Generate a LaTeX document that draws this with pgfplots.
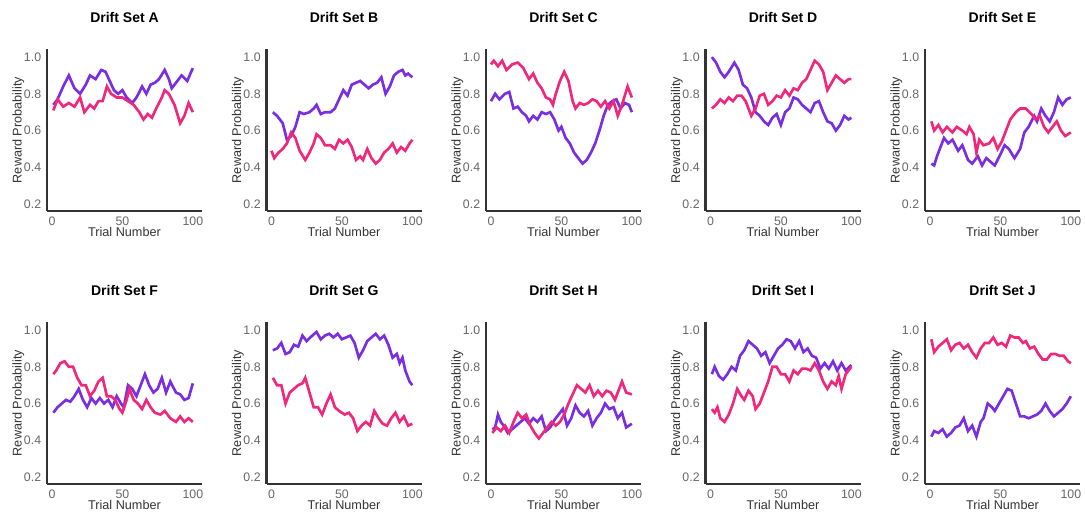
\documentclass[border=0pt]{standalone}
\usepackage{fontspec}
\setmainfont{Liberation Sans}
\usepackage{pgfplots}
\pgfplotsset{compat=1.18}
\definecolor{drpurple}{RGB}{122,46,226}
\definecolor{drpink}{RGB}{240,40,124}

\pgfplotsset{
  drift/.style={
    scale only axis, width=93pt, height=97.2pt, anchor=south west,
    xmin=-3.5, xmax=106.5, ymin=0.162, ymax=1.044,
    axis lines=left, axis line style={-, line width=1.3pt, black!80},
    xtick={0,50,100}, ytick={0.2,0.4,0.6,0.8,1.0},
    major tick length=0pt,
    /pgf/number format/assume math mode=true,
    yticklabel style={/pgf/number format/.cd, fixed, fixed zerofill, precision=1},
    tick label style={font=\fontsize{7.4}{8}\selectfont, text=black!60},
    label style={font=\fontsize{7.6}{8}\selectfont, text=black!80},
    xlabel={Trial Number}, ylabel={Reward Probability},
    xlabel style={yshift=6pt}, ylabel style={yshift=-7pt},
    title style={font=\fontsize{8.4}{9}\selectfont\bfseries, at={(0.5,1)}, anchor=south, yshift=6pt},
  },
  pu/.style={drpurple, line width=1.6pt, no marks},
  pk/.style={drpink, line width=1.6pt, no marks},
}

\begin{document}
\begin{tikzpicture}
\useasboundingbox (0,0) rectangle (651pt,308.4pt);

% ---- row 1 ----
\begin{axis}[drift, at={(28.2pt,181.8pt)}, title={Drift Set A}]
\addplot[pu] coordinates {(1,0.74) (4,0.77) (8,0.84) (12,0.90) (16,0.83) (20,0.80) (24,0.85) (27,0.90) (31,0.88) (35,0.93) (38,0.92) (41,0.87) (44,0.82) (47,0.80) (50,0.82) (53,0.78) (57,0.75) (60,0.78) (64,0.84) (67,0.80) (70,0.85) (73,0.86) (76,0.88) (80,0.93) (83,0.88) (85,0.83) (88,0.86) (92,0.90) (96,0.87) (100,0.94)};
\addplot[pk] coordinates {(1,0.71) (4,0.77) (8,0.73) (12,0.75) (16,0.73) (20,0.78) (23,0.70) (27,0.74) (30,0.72) (33,0.76) (36,0.76) (39,0.84) (42,0.80) (46,0.78) (50,0.78) (54,0.76) (58,0.74) (62,0.70) (65,0.66) (68,0.69) (71,0.67) (74,0.72) (78,0.78) (80,0.82) (83,0.80) (87,0.74) (91,0.64) (94,0.68) (97,0.75) (100,0.70)};
\end{axis}

\begin{axis}[drift, at={(159.9pt,181.8pt)}, title={Drift Set B}]
\addplot[pu] coordinates {(1,0.70) (4,0.68) (8,0.64) (11,0.55) (14,0.57) (17,0.62) (20,0.70) (23,0.69) (27,0.70) (30,0.72) (32,0.74) (35,0.69) (38,0.70) (42,0.70) (45,0.72) (48,0.77) (51,0.82) (54,0.79) (57,0.85) (60,0.86) (63,0.87) (66,0.85) (69,0.83) (72,0.85) (75,0.86) (78,0.89) (81,0.80) (84,0.84) (87,0.90) (90,0.92) (93,0.93) (95,0.90) (97,0.91) (100,0.89)};
\addplot[pk] coordinates {(0,0.49) (2,0.45) (5,0.48) (8,0.50) (11,0.53) (14,0.59) (17,0.56) (20,0.49) (24,0.44) (27,0.48) (30,0.53) (32,0.58) (35,0.56) (38,0.52) (42,0.52) (45,0.50) (48,0.55) (51,0.53) (54,0.55) (57,0.51) (60,0.44) (63,0.46) (65,0.44) (68,0.50) (71,0.45) (74,0.42) (77,0.44) (80,0.48) (83,0.50) (86,0.53) (89,0.48) (92,0.51) (95,0.49) (98,0.53) (100,0.55)};
\end{axis}

\begin{axis}[drift, at={(291.6pt,181.8pt)}, title={Drift Set C}]
\addplot[pu] coordinates {(0,0.76) (3,0.80) (6,0.77) (10,0.80) (13,0.81) (16,0.72) (19,0.73) (22,0.70) (25,0.68) (27,0.65) (30,0.68) (33,0.66) (36,0.70) (39,0.69) (42,0.70) (45,0.66) (48,0.60) (50,0.62) (53,0.56) (56,0.53) (59,0.48) (62,0.45) (65,0.42) (68,0.44) (71,0.48) (74,0.53) (77,0.60) (80,0.68) (83,0.74) (86,0.76) (89,0.77) (92,0.72) (95,0.75) (98,0.74) (100,0.70)};
\addplot[pk] coordinates {(0,0.96) (2,0.98) (5,0.95) (8,0.98) (11,0.93) (15,0.96) (19,0.97) (23,0.94) (27,0.88) (30,0.91) (33,0.86) (36,0.83) (39,0.78) (42,0.77) (44,0.74) (46,0.80) (49,0.87) (52,0.92) (55,0.87) (58,0.76) (60,0.72) (63,0.75) (66,0.74) (69,0.75) (72,0.77) (75,0.76) (78,0.73) (81,0.76) (84,0.72) (87,0.76) (90,0.68) (93,0.74) (97,0.84) (100,0.78)};
\end{axis}

\begin{axis}[drift, at={(423.3pt,181.8pt)}, title={Drift Set D}]
\addplot[pu] coordinates {(1,1.00) (4,0.97) (7,0.92) (10,0.89) (13,0.92) (17,0.97) (20,0.93) (23,0.85) (26,0.83) (29,0.78) (32,0.70) (35,0.68) (38,0.65) (41,0.63) (44,0.67) (47,0.69) (50,0.63) (53,0.70) (56,0.72) (59,0.78) (62,0.77) (65,0.74) (68,0.72) (71,0.70) (74,0.75) (77,0.76) (80,0.70) (83,0.65) (86,0.64) (89,0.60) (92,0.63) (95,0.68) (98,0.66) (100,0.67)};
\addplot[pk] coordinates {(1,0.72) (4,0.74) (7,0.77) (10,0.75) (13,0.78) (16,0.76) (19,0.79) (22,0.79) (25,0.76) (29,0.68) (32,0.72) (35,0.79) (38,0.80) (41,0.74) (44,0.76) (47,0.79) (50,0.78) (53,0.82) (56,0.79) (59,0.83) (62,0.82) (65,0.86) (68,0.88) (71,0.93) (74,0.98) (77,0.96) (80,0.92) (83,0.82) (86,0.86) (89,0.90) (92,0.88) (95,0.86) (98,0.88) (100,0.88)};
\end{axis}

\begin{axis}[drift, at={(555pt,181.8pt)}, title={Drift Set E}]
\addplot[pu] coordinates {(1,0.42) (3,0.41) (5,0.46) (7,0.50) (10,0.56) (13,0.53) (16,0.55) (20,0.49) (23,0.52) (27,0.44) (30,0.42) (34,0.46) (37,0.41) (40,0.45) (43,0.43) (46,0.41) (50,0.47) (53,0.52) (56,0.50) (60,0.45) (64,0.50) (67,0.59) (70,0.62) (74,0.68) (76,0.65) (79,0.72) (82,0.68) (85,0.65) (88,0.70) (91,0.78) (94,0.74) (97,0.77) (100,0.78)};
\addplot[pk] coordinates {(1,0.65) (3,0.60) (6,0.63) (9,0.59) (12,0.62) (16,0.59) (19,0.62) (23,0.60) (26,0.58) (28,0.62) (31,0.58) (33,0.48) (35,0.55) (38,0.52) (42,0.53) (45,0.56) (48,0.50) (51,0.54) (54,0.60) (57,0.66) (61,0.70) (64,0.72) (68,0.72) (72,0.69) (75,0.66) (78,0.68) (81,0.62) (84,0.59) (87,0.62) (90,0.65) (93,0.60) (96,0.57) (100,0.59)};
\end{axis}

% ---- row 2 ----
\begin{axis}[drift, at={(28.2pt,18pt)}, title={Drift Set F}]
\addplot[pu] coordinates {(1,0.55) (4,0.58) (7,0.60) (10,0.62) (13,0.61) (16,0.64) (19,0.68) (22,0.62) (25,0.58) (28,0.63) (31,0.60) (34,0.63) (37,0.60) (40,0.62) (43,0.58) (46,0.64) (49,0.60) (51,0.58) (54,0.70) (57,0.68) (60,0.64) (63,0.70) (66,0.76) (69,0.70) (72,0.66) (75,0.68) (78,0.74) (81,0.66) (84,0.72) (88,0.66) (91,0.65) (94,0.62) (97,0.63) (100,0.71)};
\addplot[pk] coordinates {(1,0.76) (3,0.78) (6,0.82) (9,0.83) (12,0.80) (15,0.80) (18,0.74) (21,0.70) (24,0.70) (27,0.64) (30,0.67) (33,0.72) (36,0.74) (39,0.64) (42,0.64) (45,0.62) (48,0.57) (50,0.55) (53,0.62) (55,0.68) (58,0.62) (61,0.60) (64,0.57) (67,0.62) (70,0.58) (73,0.55) (77,0.54) (80,0.56) (84,0.52) (88,0.50) (91,0.53) (94,0.50) (97,0.52) (100,0.50)};
\end{axis}

\begin{axis}[drift, at={(159.9pt,18pt)}, title={Drift Set G}]
\addplot[pu] coordinates {(1,0.89) (4,0.90) (7,0.93) (10,0.87) (13,0.88) (16,0.92) (19,0.91) (22,0.97) (25,0.94) (29,0.97) (32,0.99) (35,0.95) (38,0.97) (41,0.98) (44,0.96) (47,0.98) (50,0.95) (53,0.96) (56,0.97) (59,0.93) (62,0.85) (65,0.89) (68,0.94) (71,0.96) (74,0.98) (77,0.95) (80,0.97) (83,0.92) (86,0.85) (89,0.87) (91,0.82) (93,0.85) (95,0.78) (98,0.72) (100,0.70)};
\addplot[pk] coordinates {(1,0.74) (4,0.70) (7,0.70) (10,0.60) (13,0.66) (16,0.68) (19,0.70) (22,0.71) (24,0.74) (27,0.66) (30,0.58) (33,0.58) (36,0.54) (39,0.60) (42,0.65) (45,0.58) (48,0.56) (52,0.54) (55,0.55) (58,0.52) (61,0.45) (64,0.48) (67,0.50) (70,0.48) (73,0.56) (76,0.52) (79,0.49) (82,0.48) (85,0.52) (88,0.55) (91,0.50) (94,0.53) (97,0.48) (100,0.49)};
\end{axis}

\begin{axis}[drift, at={(291.6pt,18pt)}, title={Drift Set H}]
\addplot[pu] coordinates {(1,0.46) (3,0.47) (5,0.54) (7,0.50) (9,0.48) (12,0.44) (15,0.46) (18,0.48) (21,0.50) (24,0.52) (27,0.49) (30,0.52) (33,0.50) (36,0.53) (39,0.45) (42,0.47) (45,0.51) (48,0.54) (51,0.57) (54,0.48) (57,0.52) (60,0.59) (63,0.55) (66,0.53) (69,0.56) (72,0.48) (75,0.52) (78,0.55) (81,0.60) (84,0.57) (87,0.58) (90,0.52) (93,0.55) (96,0.47) (100,0.49)};
\addplot[pk] coordinates {(1,0.44) (4,0.47) (7,0.45) (10,0.48) (13,0.44) (16,0.50) (19,0.55) (22,0.52) (25,0.54) (28,0.48) (31,0.44) (34,0.41) (37,0.44) (40,0.47) (43,0.50) (46,0.48) (49,0.50) (52,0.54) (55,0.60) (58,0.65) (61,0.70) (64,0.68) (67,0.66) (70,0.70) (73,0.64) (76,0.67) (79,0.64) (82,0.67) (85,0.66) (88,0.62) (91,0.68) (93,0.72) (96,0.66) (100,0.65)};
\end{axis}

\begin{axis}[drift, at={(423.3pt,18pt)}, title={Drift Set I}]
\addplot[pu] coordinates {(1,0.76) (3,0.80) (6,0.75) (9,0.73) (12,0.76) (15,0.80) (18,0.78) (21,0.86) (24,0.89) (27,0.94) (30,0.92) (33,0.90) (36,0.86) (39,0.88) (42,0.82) (45,0.86) (48,0.90) (51,0.92) (54,0.95) (57,0.94) (60,0.90) (63,0.94) (66,0.88) (69,0.90) (72,0.86) (75,0.85) (78,0.79) (81,0.82) (84,0.79) (87,0.83) (90,0.78) (93,0.82) (96,0.78) (100,0.81)};
\addplot[pk] coordinates {(1,0.57) (3,0.55) (5,0.58) (7,0.52) (10,0.50) (13,0.54) (16,0.60) (19,0.68) (22,0.64) (24,0.62) (27,0.67) (30,0.64) (32,0.57) (35,0.60) (38,0.66) (41,0.72) (44,0.80) (47,0.80) (50,0.76) (53,0.76) (56,0.72) (59,0.78) (62,0.76) (65,0.79) (68,0.79) (71,0.78) (74,0.82) (77,0.78) (80,0.72) (83,0.68) (86,0.72) (89,0.70) (91,0.75) (93,0.68) (96,0.76) (100,0.80)};
\end{axis}

\begin{axis}[drift, at={(555pt,18pt)}, title={Drift Set J}]
\addplot[pu] coordinates {(1,0.42) (3,0.45) (6,0.44) (9,0.46) (12,0.42) (15,0.44) (18,0.47) (21,0.48) (24,0.52) (27,0.45) (30,0.48) (33,0.42) (36,0.50) (38,0.52) (41,0.60) (44,0.58) (46,0.56) (49,0.60) (52,0.64) (55,0.68) (58,0.67) (61,0.60) (64,0.53) (67,0.53) (70,0.52) (73,0.53) (76,0.54) (79,0.56) (82,0.60) (85,0.56) (88,0.53) (91,0.55) (94,0.57) (97,0.60) (100,0.64)};
\addplot[pk] coordinates {(1,0.95) (3,0.88) (6,0.91) (9,0.93) (12,0.95) (15,0.89) (18,0.92) (21,0.93) (24,0.90) (27,0.92) (30,0.88) (33,0.85) (36,0.90) (39,0.93) (42,0.93) (45,0.96) (48,0.92) (51,0.93) (54,0.91) (57,0.97) (60,0.96) (63,0.96) (66,0.93) (68,0.94) (71,0.90) (74,0.91) (77,0.87) (80,0.84) (83,0.84) (86,0.87) (89,0.87) (92,0.86) (95,0.86) (98,0.83) (100,0.82)};
\end{axis}
\end{tikzpicture}
\end{document}
